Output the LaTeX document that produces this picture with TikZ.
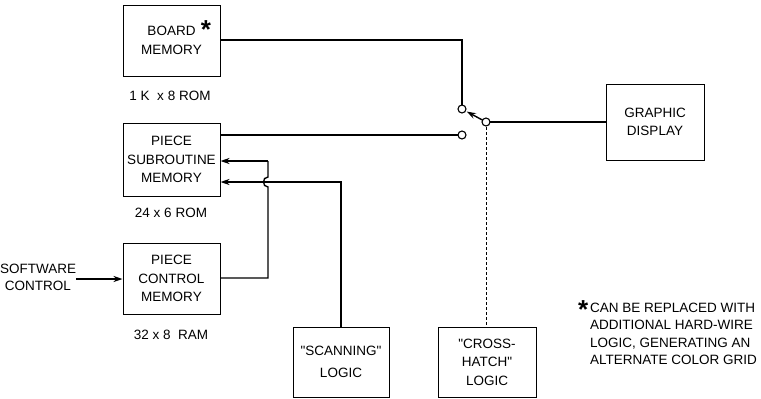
\documentclass[tikz,border=0pt]{standalone}
\usepackage{fontspec}
\setmainfont{Liberation Sans}
\usetikzlibrary{arrows.meta,calc}
\font\rawquotefont="Liberation Sans" at 13.5pt
\newcommand{\sq}{{\rawquotefont"}}
\begin{document}
\begin{tikzpicture}[x=1pt,y=-1pt,
  blk/.style={draw,line width=1pt,minimum width=97pt,align=center,inner sep=0pt,font=\fontsize{13.5}{18.5}\selectfont},
  lbl/.style={font=\fontsize{13.5}{17.3}\selectfont,inner sep=0pt},
  star/.style={font=\fontsize{26}{26}\bfseries\selectfont,inner sep=0pt},
  wire/.style={line width=1.4pt},
  arr/.style={wire,-{Stealth[length=9pt,width=6pt]}},
  contact/.style={circle,draw,line width=1.1pt,fill=white,minimum size=8pt,inner sep=0pt}]
\useasboundingbox (0,0) rectangle (761,399);
% blocks
\node[blk,minimum height=71pt] (board) at (171.5,40.5) {BOARD\\MEMORY};
\node[star] (star1) at (206,30) {*};
\node[lbl] (boardl) at (170,96) {1 K \ x 8 ROM};
\node[blk,minimum height=73pt] (sub) at (171.5,159.5) {PIECE\\SUBROUTINE\\MEMORY};
\node[lbl] (subl) at (171,213) {24 x 6 ROM};
\node[blk,minimum height=71pt] (ctl) at (171.5,278.5) {PIECE\\CONTROL\\MEMORY};
\node[lbl] (ctll) at (171,335) {32 x 8 \ RAM};
\node[blk,minimum height=76pt,minimum width=98pt] (disp) at (655,122) {GRAPHIC\\DISPLAY};
\node[blk,minimum height=70pt,minimum width=96pt,font=\fontsize{13.5}{22}\selectfont] (scan) at (341,362) {\sq SCANNING\sq\\LOGIC};
\node[blk,minimum height=70pt,minimum width=98pt] (hatch) at (487,362) {\sq CROSS-\\HATCH\sq\\LOGIC};
\node[lbl,align=center] (sw) at (38,277) {SOFTWARE\\CONTROL};
% footnote (asterisk set in the same text)
\node[lbl,align=left,anchor=north west] (note) at (590,303) {\llap{\smash{\raisebox{-5.5pt}{\fontsize{26}{26}\bfseries\selectfont *}}\hspace{2pt}}CAN BE REPLACED WITH\\ADDITIONAL HARD-WIRE\\LOGIC, GENERATING AN\\ALTERNATE COLOR GRID};
% switch contacts
\coordinate (c1) at (462,109);
\coordinate (c2) at (462,135);
\coordinate (pole) at (486,122);
\draw[wire] (board.east |- 0,40) -| (c1);
\draw[wire] (sub.east |- c2) -- (c2);
\draw[wire] (pole) -- (disp.west |- pole);
\draw[arr] (pole) -- ($(c1)!0.2!(pole)$);
\draw[line width=0.7pt,dash pattern=on 3pt off 2pt] (pole) -- (hatch.north -| pole);
\node[contact] (k1) at (c1) {};
\node[contact] (k2) at (c2) {};
\node[contact] (kp) at (pole) {};
% software control
\draw[arr] (sw.east |- 0,279) -- (ctl.west |- 0,279);
% control -> subroutine upper input (with hop)
\coordinate (h1) at (268,161);
\draw[wire] (ctl.east |- 0,278) -- (268,278) -- (268,187) .. controls (262,187) and (262,177) .. (268,177) -- (h1);
\draw[arr] (h1) -- (sub.east |- h1);
% scanning -> subroutine lower input
\draw[arr] (scan.north) -- (341,182) -- (sub.east |- 0,182);
\end{tikzpicture}
\end{document}
